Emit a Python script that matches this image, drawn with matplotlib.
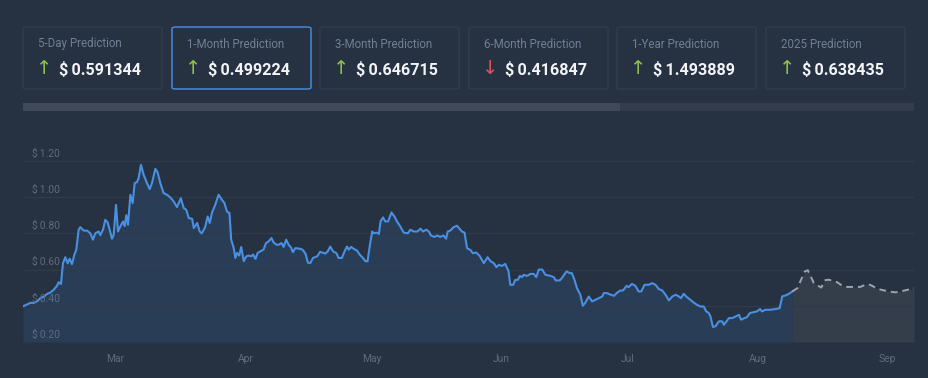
import matplotlib
matplotlib.use("Agg")
import matplotlib.pyplot as plt
import matplotlib.dates as mdates
import matplotlib.transforms as mtransforms
from matplotlib.patches import FancyBboxPatch, Rectangle
import numpy as np
import pandas as pd

plt.rcParams['font.family'] = ['Roboto', 'DejaVu Sans']

# ---------------- data ----------------
start_date = "2024-02-08"
hist_days = [0.0, 0.95, 1.74, 2.53, 3.33, 4.12, 4.92, 5.71, 6.51, 7.30, 8.09, 8.49, 9.05, 9.52, 10.08, 10.64,
             11.11, 11.67, 12.21, 12.70, 13.26, 13.66, 14.45, 15.24, 16.04, 16.67, 17.23, 18.02, 18.42, 19.06,
             19.61, 20.17, 20.65, 21.20, 21.60, 22.16, 22.63, 23.19, 23.83, 24.22, 24.62, 25.02, 25.58, 26.13,
             26.61, 27.16, 27.56, 28.11, 28.75, 29.54, 30.18, 30.73, 31.53, 32.08, 32.72, 33.51, 34.31, 35.10,
             35.9, 36.7, 37.6, 38.3, 38.9, 39.5, 40.3, 40.7, 41.5, 42.1, 42.6, 43.4, 44.0, 44.5, 45.0, 45.8,
             46.6, 47.4, 48.0, 48.6, 49.2, 49.6, 50.2, 50.6, 51.0, 51.5, 52.0, 52.6, 53.2, 53.8, 54.4, 54.8,
             55.4, 55.9, 56.5, 57.3, 57.9, 58.5, 59.2, 59.7, 60.4, 60.9, 61.6, 62.1, 62.7, 63.3, 63.9, 64.3,
             64.9, 65.7, 66.6, 67.3, 67.9, 68.5, 69.1, 70.1, 70.8,
             72.0, 72.6, 73.2, 73.9, 74.7, 75.2, 76.0, 76.6, 77.2, 77.6, 78.2, 78.8, 79.6, 80.2, 81.0, 81.6,
             82.1, 82.6, 83.2, 83.6, 84.2, 84.8, 85.2, 85.8, 86.3, 87.0, 87.8, 88.5, 89.1, 89.9, 90.7, 91.7,
             92.3, 93.1, 94.0, 94.7, 95.3, 96.1, 96.7, 97.2, 98.0, 98.7, 99.4, 100.2, 100.8, 101.2, 101.8,
             102.6, 103.4, 104.1, 104.6, 105.2, 105.8, 106.6,
             107.2, 108.0, 108.8, 109.8, 110.7, 111.4, 112.2, 112.8, 113.4, 114.1, 114.9, 115.7, 116.1, 116.8,
             117.3, 117.9, 118.4, 118.9, 119.3, 120.1, 120.9, 121.7, 122.3, 122.9, 123.7, 124.5, 125.7, 126.5,
             126.9, 127.9, 128.4, 129.5, 130.3, 130.8, 131.4, 132.0, 132.8, 133.4, 134.0, 134.8, 135.6, 136.4,
             137.2, 138.0, 138.4, 139.2, 140.0, 140.8, 141.6, 142.3,
             143.0, 143.8, 144.3, 145.1, 145.9, 146.7, 147.3, 148.1, 149.1, 149.9, 150.7, 151.5, 152.3, 153.1,
             153.9, 154.7, 155.5, 156.3, 156.8, 157.4, 158.2, 159.0, 159.8, 160.6, 161.4, 162.2, 162.8, 163.4,
             163.8, 164.4, 165.0, 165.8, 166.6, 167.0, 167.6, 168.2, 169.0, 169.8, 170.6, 171.1, 171.9, 172.5,
             173.2, 174.1, 174.9, 175.6, 176.1, 176.9, 178.1,
             179.3, 180.3, 180.9, 181.7, 182.5, 183.3]
hist_prices = [0.397, 0.407, 0.416, 0.416, 0.424, 0.442, 0.450, 0.465, 0.473, 0.488, 0.510, 0.530, 0.520, 0.635,
               0.668, 0.635, 0.660, 0.630, 0.680, 0.710, 0.820, 0.834, 0.815, 0.815, 0.800, 0.765, 0.800, 0.810,
               0.790, 0.820, 0.875, 0.860, 0.820, 0.770, 0.790, 0.957, 0.810, 0.838, 0.865, 0.840, 0.900, 0.847,
               1.013, 0.967, 1.077, 1.083, 1.105, 1.178, 1.123, 1.077, 1.044, 1.077, 1.156, 1.136, 1.077, 1.022,
               1.013, 0.998,
               0.976, 0.945, 0.994, 0.939, 0.930, 0.884, 0.880, 0.829, 0.857, 0.810, 0.800, 0.834, 0.893, 0.857,
               0.912, 0.957, 1.013, 0.985, 0.967, 0.920, 0.912, 0.765, 0.720, 0.664, 0.692, 0.677, 0.725, 0.646,
               0.673, 0.677, 0.673, 0.683, 0.659, 0.692, 0.700, 0.710, 0.746, 0.755, 0.774, 0.750, 0.737, 0.737,
               0.746, 0.725, 0.765, 0.737, 0.720, 0.696, 0.718, 0.716, 0.710, 0.688, 0.637, 0.637, 0.664, 0.673,
               0.698,
               0.688, 0.700, 0.727, 0.700, 0.690, 0.664, 0.664, 0.700, 0.727, 0.710, 0.725, 0.714, 0.705, 0.683,
               0.664, 0.646, 0.646, 0.727, 0.810, 0.800, 0.804, 0.797, 0.866, 0.888, 0.866, 0.866, 0.915, 0.893,
               0.866, 0.838, 0.804, 0.800, 0.820, 0.810, 0.810, 0.826, 0.810, 0.820, 0.810, 0.788, 0.780, 0.788,
               0.780, 0.788, 0.770, 0.810, 0.815, 0.834, 0.842, 0.823, 0.810, 0.804, 0.718, 0.708,
               0.690, 0.694, 0.676, 0.635, 0.668, 0.646, 0.635, 0.613, 0.626, 0.620, 0.631, 0.590, 0.516, 0.516,
               0.543, 0.543, 0.565, 0.558, 0.571, 0.565, 0.576, 0.576, 0.558, 0.600, 0.600, 0.571, 0.565, 0.558,
               0.540, 0.540, 0.553, 0.590, 0.580, 0.580, 0.543, 0.497, 0.461, 0.400, 0.418, 0.451, 0.424, 0.433,
               0.442, 0.451, 0.470, 0.470, 0.461, 0.455, 0.473, 0.484,
               0.485, 0.510, 0.503, 0.521, 0.510, 0.479, 0.479, 0.516, 0.516, 0.525, 0.516, 0.492, 0.485, 0.461,
               0.430, 0.451, 0.461, 0.451, 0.442, 0.466, 0.448, 0.433, 0.418, 0.405, 0.396, 0.396, 0.369, 0.360,
               0.341, 0.283, 0.287, 0.314, 0.314, 0.295, 0.314, 0.332, 0.332, 0.341, 0.350, 0.323, 0.332, 0.337,
               0.360, 0.365, 0.369, 0.382, 0.369, 0.378, 0.378,
               0.382, 0.387, 0.452, 0.457, 0.466, 0.479]
pred_days = [183.3, 184.5, 185.4, 186.3, 187.0, 187.6, 188.4, 189.6, 190.2, 191.0, 191.8, 192.8, 194.0, 195.2,
             196.4, 198.0, 199.5, 200.5, 201.3, 202.3, 203.5, 205.1, 206.7, 207.9, 209.1, 210.7, 212.3]
pred_prices = [0.479, 0.497, 0.544, 0.590, 0.596, 0.567, 0.527, 0.509, 0.500, 0.540, 0.544, 0.540, 0.530, 0.511,
               0.504, 0.504, 0.504, 0.514, 0.520, 0.511, 0.494, 0.485, 0.478, 0.474, 0.479, 0.488, 0.497]

card_titles = ["5-Day Prediction", "1-Month Prediction", "3-Month Prediction",
               "6-Month Prediction", "1-Year Prediction", "2025 Prediction"]
card_values = ["0.591344", "0.499224", "0.646715", "0.416847", "1.493889", "0.638435"]
card_up = [True, True, True, False, True, True]
y_ticks = [0.20, 0.40, 0.60, 0.80, 1.00, 1.20]
month_ticks = ["2024-03-01", "2024-04-01", "2024-05-01", "2024-06-01", "2024-07-01", "2024-08-01", "2024-09-01"]

# ---------------- style ----------------
BG = "#263142"
CARD_BORDER = "#313c4d"
SEL_BORDER = "#4a90e2"
GRID = "#2f3a4b"
LINE = "#4a90e2"
FILL_H = "#2a3d56"
FILL_P = "#343d4a"
PRED = "#a0a4aa"
TXT_DIM = "#718095"
AX_TXT = "#5f6c7e"

W, H = 929, 378
fig = plt.figure(figsize=(W / 100, H / 100), dpi=100)
fig.patch.set_facecolor(BG)

def fx(px):
    return px / W

def fy(py):
    return 1 - py / H

# ---------------- cards ----------------
card_lefts = [23, 172, 320, 469, 617, 766]
card_w = 139
for i, (t, v, up) in enumerate(zip(card_titles, card_values, card_up)):
    x0 = card_lefts[i]
    sel = (i == 1)
    box = FancyBboxPatch((fx(x0), fy(89)), fx(card_w), (89 - 27) / H,
                         boxstyle="round,pad=0,rounding_size=0.004",
                         transform=fig.transFigure, facecolor=BG,
                         edgecolor=SEL_BORDER if sel else CARD_BORDER, linewidth=1.0)
    fig.add_artist(box)
    fig.text(fx(x0 + 15), fy(44), t, color=TXT_DIM, fontsize=8.3, va="center", ha="left")
    fig.text(fx(x0 + 13.5), fy(69), "\u2191" if up else "\u2193", color="#8bc34a" if up else "#e05260",
             fontsize=14, va="center", ha="left", family=['DejaVu Sans'])
    fig.text(fx(x0 + 36.5), fy(70), "$\u2009" + v, color="#f2f4f7", fontsize=11.6, fontweight="bold",
             va="center", ha="left")

# progress bar
fig.add_artist(Rectangle((fx(23), fy(111)), fx(914 - 23), 8 / H, transform=fig.transFigure,
                         facecolor="#323c4c", edgecolor="none"))
fig.add_artist(Rectangle((fx(23), fy(111)), fx(620 - 23), 8 / H, transform=fig.transFigure,
                         facecolor="#3f4959", edgecolor="none"))

# ---------------- chart ----------------
ax = fig.add_axes([fx(23), fy(342), fx(914 - 23), (342 - 150) / H])
ax.set_facecolor(BG)
t0 = pd.Timestamp(start_date)
hx = t0 + pd.to_timedelta(hist_days, unit="D")
px = t0 + pd.to_timedelta(pred_days, unit="D")

ax.fill_between(hx, hist_prices, 0.2, color=FILL_H, linewidth=0, zorder=1)
ax.fill_between(px, pred_prices, 0.2, color=FILL_P, linewidth=0, zorder=1)
ax.plot(hx, hist_prices, color=LINE, linewidth=1.5, zorder=3, solid_joinstyle="round")
ax.plot(px, pred_prices, color=PRED, linewidth=1.4, linestyle=(0, (3.5, 2.5)), zorder=3)

ax.set_ylim(0.2, 1.26)
ax.set_xlim(t0, t0 + pd.Timedelta(days=212.3))
trans = mtransforms.blended_transform_factory(ax.transAxes, ax.transData)
for yv in y_ticks:
    ax.axhline(yv, color=GRID, linewidth=1.0, zorder=2)
    ax.text(0.01, yv + 0.012, "$\u2009%.2f" % yv, transform=trans,
            color=AX_TXT, fontsize=7.4, va="bottom", ha="left", zorder=4)

for s in ax.spines.values():
    s.set_visible(False)
ax.set_yticks([])
ax.set_xticks(pd.to_datetime(month_ticks))
ax.xaxis.set_major_formatter(mdates.DateFormatter("%b"))
ax.tick_params(axis="x", length=0, pad=9, labelcolor=AX_TXT, labelsize=7.4)

fig.savefig("out.png", dpi=100, facecolor=BG)
